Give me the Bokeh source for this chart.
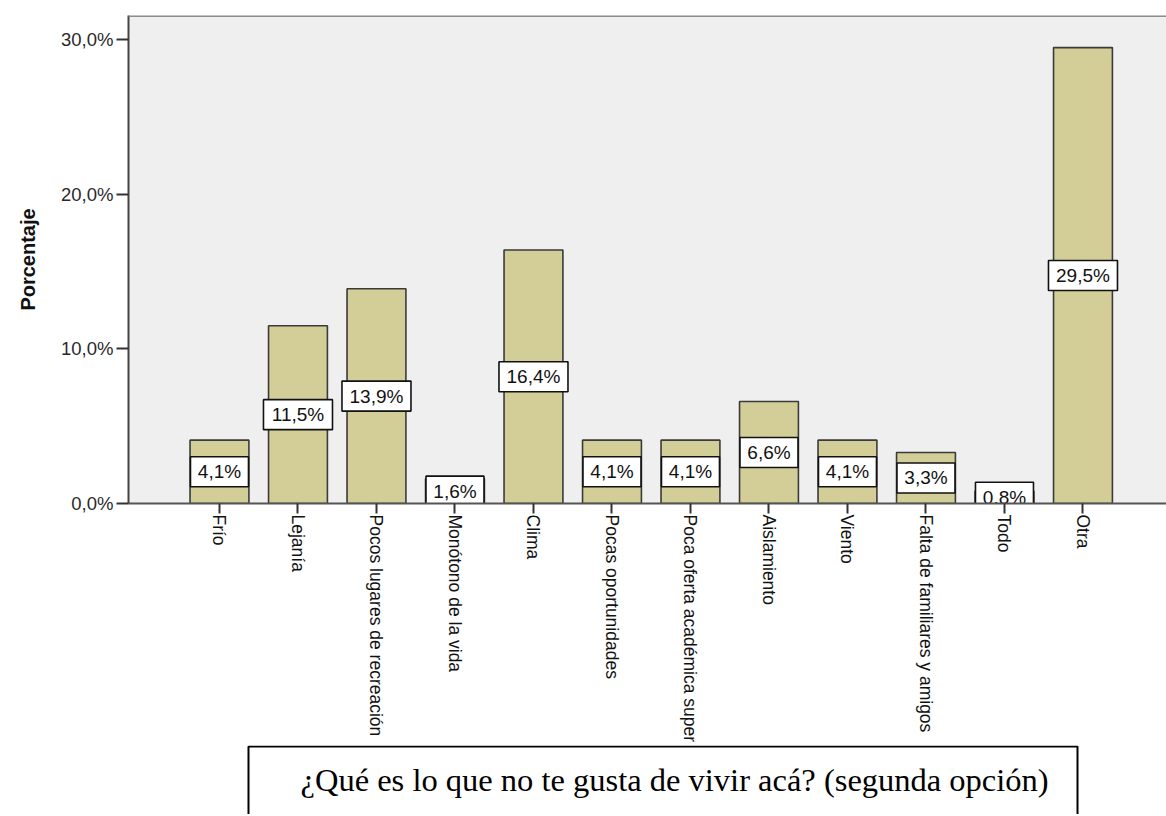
import math
from bokeh.plotting import figure
from bokeh.layouts import column
from bokeh.models import Range1d, FixedTicker, Span, ColumnDataSource
from bokeh.core.properties import value
from bokeh.embed import file_html
from bokeh.resources import INLINE

# ---- data ----
categories = ["Frío", "Lejanía", "Pocos lugares de recreación", "Monótono de la vida",
              "Clima", "Pocas oportunidades", "Poca oferta académica super",
              "Aislamiento", "Viento", "Falta de familiares y amigos", "Todo", "Otra"]
percentages = [4.1, 11.5, 13.9, 1.6, 16.4, 4.1, 4.1, 6.6, 4.1, 3.3, 0.8, 29.5]
y_ticks = [0, 10, 20, 30]
y_tick_labels = ["0,0%", "10,0%", "20,0%", "30,0%"]
title_text = "¿Qué es lo que no  te gusta de vivir acá? (segunda opción)"

xs = list(range(len(categories)))
labels = [f"{v:.1f}".replace(".", ",") + "%" for v in percentages]
src = ColumnDataSource(dict(
    x=xs, top=percentages, mid=[v / 2 for v in percentages], label=labels,
    bw=[58 + 11 * (len(s) - 4) for s in labels],
))

FONT = "Liberation Sans"
Y_TOP = 31.576

p = figure(width=1166, height=745, output_backend="svg", toolbar_location=None,
           x_range=Range1d(-1.159, 12.064), y_range=Range1d(0, Y_TOP),
           min_border_left=128, min_border_right=0, min_border_top=15, min_border_bottom=239)
p.background_fill_color = "#EFEFEF"
p.border_fill_color = "white"
p.outline_line_color = None
p.xgrid.visible = False
p.ygrid.visible = False

p.vbar(x="x", top="top", width=0.75, bottom=0, source=src,
       fill_color="#D3CE97", line_color="#3a3a3a", line_width=1.6)

p.rect(x="x", y="mid", width="bw", height=30, width_units="screen", height_units="screen",
       source=src, fill_color="white", line_color="#111111", line_width=1.6)
p.text(x="x", y="mid", text="label", source=src, text_align="center",
       text_baseline="middle", text_font=value(FONT), text_font_size="19px",
       text_color="#111111")

p.add_layout(Span(location=Y_TOP, dimension="width", line_color="#8c8c8c", line_width=3))

# y axis
ya = p.yaxis[0]
ya.ticker = FixedTicker(ticks=y_ticks)
ya.major_label_overrides = dict(zip(y_ticks, y_tick_labels))
ya.minor_tick_line_color = None
ya.major_tick_in = 0
ya.major_tick_out = 12
ya.major_tick_line_width = 2
ya.major_tick_line_color = "#333333"
ya.axis_line_color = "#444444"
ya.axis_line_width = 2
ya.major_label_standoff = 3
ya.major_label_text_font = FONT
ya.major_label_text_font_size = "18.5px"
ya.major_label_text_color = "#2a2a2a"
ya.axis_label = "Porcentaje"
ya.axis_label_text_font = FONT
ya.axis_label_text_font_size = "20px"
ya.axis_label_text_font_style = "bold"
ya.axis_label_text_color = "#111111"
ya.axis_label_standoff = 19

# x axis
xa = p.xaxis[0]
xa.ticker = FixedTicker(ticks=xs)
xa.major_label_overrides = dict(zip(xs, categories))
xa.major_label_orientation = -math.pi / 2
xa.minor_tick_line_color = None
xa.major_tick_in = 0
xa.major_tick_out = 10
xa.major_tick_line_width = 2
xa.major_tick_line_color = "#333333"
xa.axis_line_color = "#555555"
xa.axis_line_width = 2
xa.major_label_standoff = 1
xa.major_label_text_font = FONT
xa.major_label_text_font_size = "17.5px"
xa.major_label_text_color = "#111111"

# title box (second figure, frame aligned with the chart frame; units are pixels)
p2 = figure(width=1166, height=69, output_backend="svg", toolbar_location=None,
            x_range=Range1d(0, 1038), y_range=Range1d(0, 69),
            min_border_left=128, min_border_right=0, min_border_top=0, min_border_bottom=0)
p2.axis.visible = False
p2.xgrid.visible = False
p2.ygrid.visible = False
p2.background_fill_color = "white"
p2.border_fill_color = "white"
p2.outline_line_color = None
p2.quad(left=[120], right=[949], bottom=[-10], top=[68], fill_color="white",
        line_color="black", line_width=2)
p2.text(x=[172], y=[35], text=[title_text], text_align="left", text_baseline="middle",
        text_font=value("Liberation Serif"), text_font_size="32.5px", text_color="black")

layout = column(p, p2, spacing=0)
open("out.html", "w").write(file_html(layout, INLINE))
